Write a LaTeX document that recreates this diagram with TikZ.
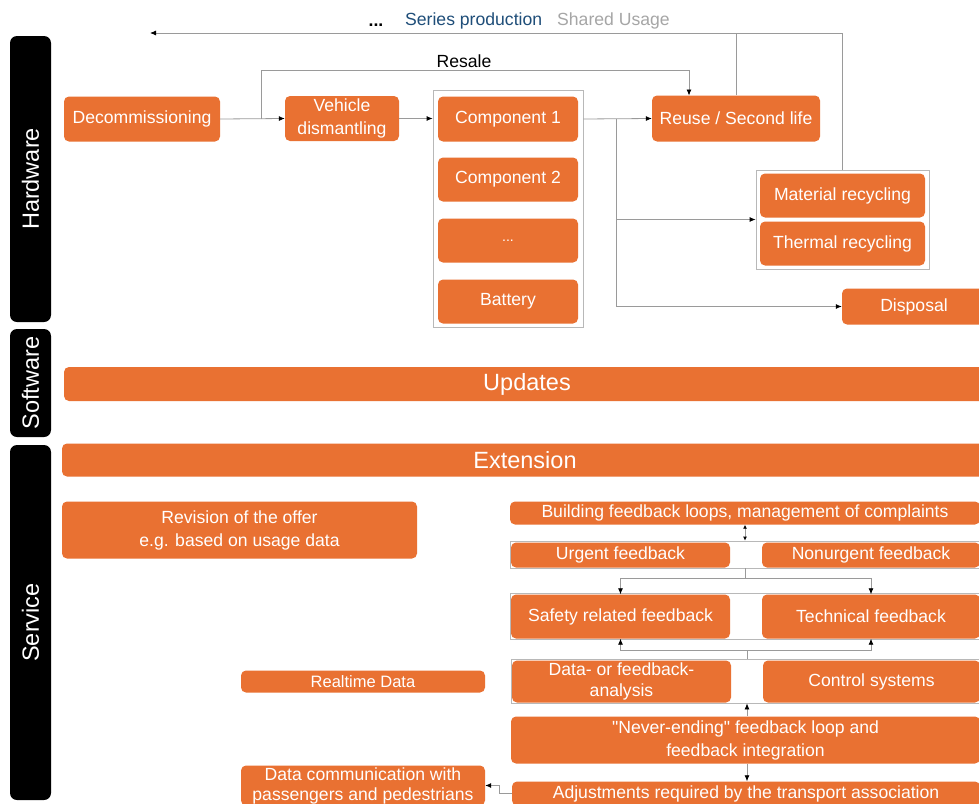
\documentclass[tikz,border=0pt]{standalone}
\usepackage{fontspec}
\setmainfont{Liberation Sans}
\newfontfamily\qfont{Liberation Sans}
\usetikzlibrary{arrows.meta}
\definecolor{orng}{HTML}{E97132}
\definecolor{navy}{HTML}{1F4E79}
\definecolor{lgray}{HTML}{A6A6A6}
\definecolor{lnk}{HTML}{9A9A9A}
\begin{document}
\begin{tikzpicture}[x=1pt,y=-1pt,
 box/.style={fill=orng, rounded corners=5pt, text=white, font=\fontsize{17.6}{21}\selectfont, align=center, inner sep=0pt},
 bar/.style={fill=black, rounded corners=7pt, text=white, font=\fontsize{23.5}{26}\selectfont, inner sep=0pt, rotate=90},
 grp/.style={draw=lgray!80, line width=0.8pt, inner sep=0pt},
 wh/.style 2 args={minimum width=#1pt, minimum height=#2pt},
 link/.style={draw=lnk, line width=0.8pt},
 arr/.style={link, -{Latex[black,length=6pt,width=5pt]}},
 lbl/.style={inner sep=0pt, font=\fontsize{17.6}{21}\selectfont},
]
\clip (0,0) rectangle (979,803);
\fill[white] (0,0) rectangle (979,803);

% side bars
\node[bar, wh={286}{41}] (hw) at (30.5,179) {Hardware};
\node[bar, wh={108}{41}] (sw) at (30.5,383) {Software};
\node[bar, wh={355}{41}] (sv) at (30.5,622.5) {Service};

% top labels
\node[lbl, font=\fontsize{17.6}{21}\bfseries] (dots) at (376,25) {...};
\node[lbl, anchor=west, text=navy] (sp) at (405,21) {Series production};
\node[lbl, anchor=west, text=lgray] (su) at (557,21) {Shared Usage};
\node[lbl] (resale) at (464,61) {Resale};

% groups
\node[grp, wh={150}{237}] (g1) at (508,208.5) {};
\node[grp, wh={173}{99}] (g2) at (842.5,219.5) {};
\node[grp, wh={475}{27}] (r1) at (747.5,554.5) {};
\node[grp, wh={475}{46}] (r2) at (747.5,616) {};
\node[grp, wh={474}{44}] (r3) at (748,681) {};

% hardware
\node[box, wh={156}{45}] (decom) at (142,119) {Decommissioning};
\node[box, wh={114}{45}, font=\fontsize{17.6}{22.5}\selectfont] (veh) at (342,118.5) {Vehicle\\dismantling};
\node[box, wh={140}{45}] (c1) at (508,119) {Component 1};
\node[box, wh={140}{44}] (c2) at (508,179.5) {Component 2};
\node[box, wh={140}{44}, font=\fontsize{14}{16}\selectfont] (c3) at (508,240.5) {...};
\node[box, wh={140}{44}] (bat) at (508,301.5) {Battery};
\node[box, wh={168}{46}] (reuse) at (736,118.5) {Reuse / Second life};
\node[box, wh={165}{44}] (mat) at (842.5,195.5) {Material recycling};
\node[box, wh={165}{44}] (therm) at (842.5,243.5) {Thermal recycling};
\node[box, wh={144}{36}] (disp) at (914,306.5) {Disposal};

% software / service
\node[box, wh={926}{34}, font=\fontsize{23.5}{26}\selectfont] (upd) at (527,384) {Updates};
\node[box, wh={926}{33}, font=\fontsize{23.5}{26}\selectfont] (ext) at (525,460) {Extension};
\node[box, wh={355}{57}, font=\fontsize{17.6}{23}\selectfont] (rev) at (239.5,530) {Revision of the offer\\e.g. based on usage data};
\node[box, wh={470}{23}] (build) at (745,513) {Building feedback loops, management of complaints};
\node[box, wh={219}{25}] (urg) at (620.5,555) {Urgent feedback};
\node[box, wh={218}{25}] (nonurg) at (871,555) {Nonurgent feedback};
\node[box, wh={219}{44}] (safe) at (620.5,616.5) {Safety related feedback};
\node[box, wh={218}{44}] (tech) at (871,616.5) {Technical feedback};
\node[box, wh={219}{42}, font=\fontsize{17.6}{20.5}\selectfont] (data) at (621.5,681.5) {Data- or feedback-\\analysis};
\node[box, wh={217}{42}] (ctrl) at (871.5,681.5) {Control systems};
\node[box, wh={469}{47}, font=\fontsize{17.6}{23}\selectfont] (never) at (745.5,740) {{\qfont"}Never-ending{\qfont"} feedback loop and\\feedback integration};
\node[box, wh={468}{24}] (adj) at (746,793.5) {Adjustments required by the transport association};
\node[box, wh={244}{22}, font=\fontsize{16.5}{19}\selectfont] (rt) at (363,681.5) {Realtime Data};
\node[box, wh={244}{40}, font=\fontsize{17.6}{20}\selectfont] (dcom) at (363,785.5) {Data communication with\\passengers and pedestrians};

% hardware connectors
\coordinate (tl) at (150,33);
\coordinate (rs) at (261,119);
\coordinate (rsend) at (689,95.5);
\coordinate (j1) at (616,119);
\draw[arr] (decom.east) -- (veh.west);
\draw[arr] (rs) -- (261,70) -| (rsend);
\draw[arr] (veh.east) -- (veh.east -| g1.west);
\draw[arr] (c1.east -| g1.east) -- (reuse.west);
\draw[arr] (j1) |- (g2.west);
\draw[arr] (j1) |- (disp.west);
\draw[arr] (g2.north) |- (tl);
\draw[link] (reuse.north) -- (reuse.north |- tl);

% feedback connectors
\coordinate (f1) at (745,578);
\coordinate (f2) at (747,650);
\draw[link, {Latex[black,length=4pt,width=4pt]}-{Latex[black,length=4pt,width=4pt]}] (build.south) -- (build.south |- r1.north);
\draw[link] (build.south |- r1.south) -- (f1);
\draw[arr] (f1) -| (safe.north);
\draw[arr] (f1) -| (tech.north);
\draw[link] (f2 |- r3.north) -- (f2);
\draw[arr] (f2) -| (safe.south);
\draw[arr] (f2) -| (tech.south);
\draw[arr] (never.north -| f2) -- (f2 |- r3.south);
\draw[arr] (never.south -| f2) -- (f2 |- adj.north);
\draw[arr] (adj.west) -- ++(-12,0) |- (dcom.east);
\end{tikzpicture}
\end{document}
